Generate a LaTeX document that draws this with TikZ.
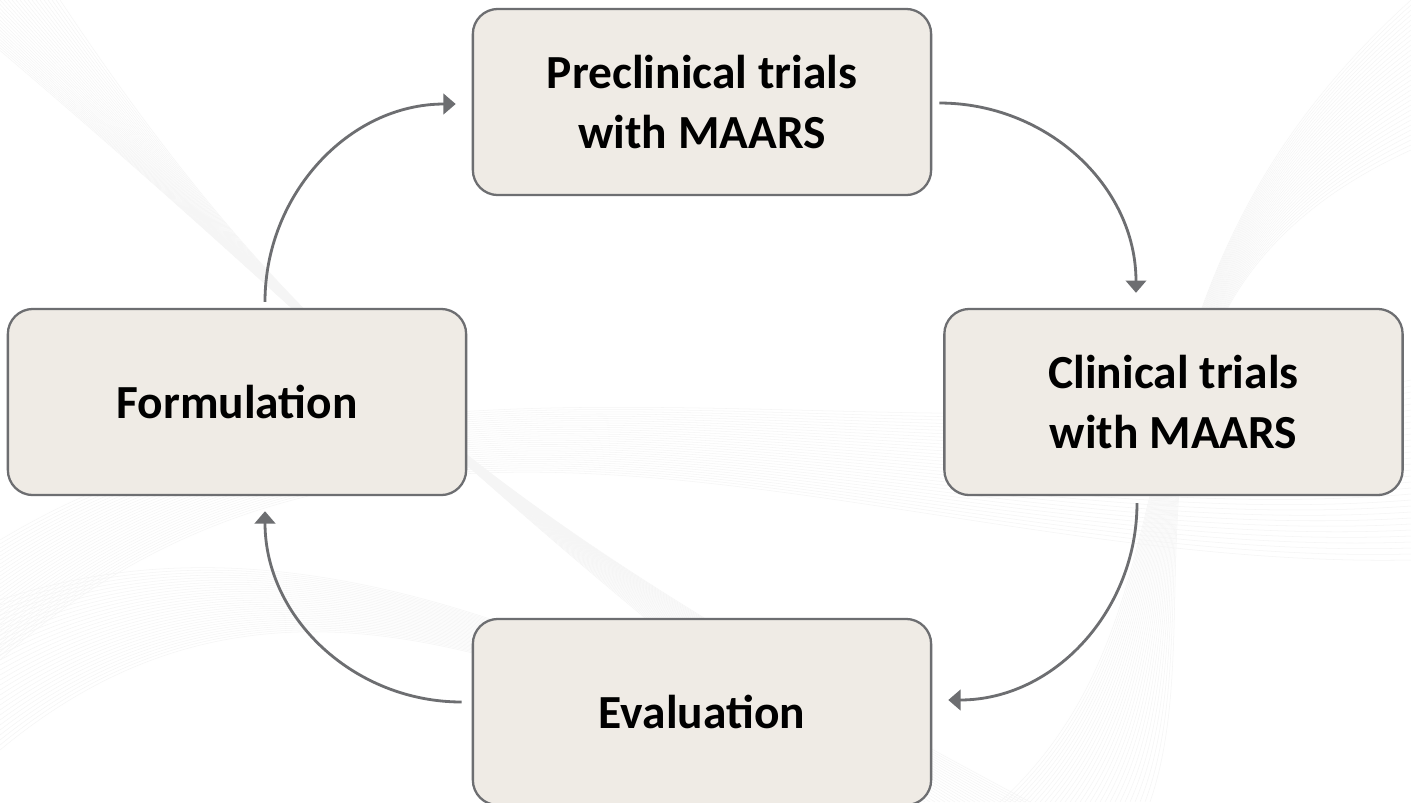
\documentclass[tikz,border=0pt]{standalone}
\usepackage{fontspec}
\setmainfont{Carlito}
\usetikzlibrary{arrows.meta,calc}
\definecolor{boxfill}{HTML}{EFEBE5}
\definecolor{edgegray}{HTML}{6D6E71}
\begin{document}
\begin{tikzpicture}[x=0.01cm,y=-0.01cm,
  stagebox/.style={draw=edgegray,line width=0.65pt,fill=boxfill,rounded corners=0.25cm,
    minimum width=4.58cm,minimum height=1.86cm,align=center,inner sep=0pt,
    font=\fontsize{13.5}{17}\selectfont\bfseries},
  arr/.style={draw=edgegray,line width=0.8pt,-{Triangle[width=5.8pt,length=3.5pt]}},
  bgline/.style={draw=black!4,line width=0.15pt}]
\useasboundingbox (0,0) rectangle (1411,802);
\fill[white] (0,0) rectangle (1411,802);
% faint background texture
\foreach \i in {0,...,30} {
  \draw[bgline] (\i*4-60,0) .. controls (300,300+\i*2) and (500,520) .. (880+\i*5,802);
  \draw[bgline] (0,540+\i*4) .. controls (400,300) and (900,480+\i*3) .. (1411,380+\i*6);
  \draw[bgline] (1411,\i*5) .. controls (1080,300) and (1220,600) .. (1000+\i*5,802);
  \draw[bgline] (0,600+\i*5) .. controls (300,500) and (600,650+\i*2) .. (900,802);
}
\node[stagebox] (pre) at (702,102) {Preclinical trials\\with MAARS};
\node[stagebox] (form) at (237,402) {Formulation};
\node[stagebox] (clin) at (1173.5,402) {Clinical trials\\with MAARS};
\node[stagebox] (eval) at (702,712) {Evaluation};
\coordinate (a1s) at ($(form.north)+(28,-6)$);
\coordinate (a1e) at ($(pre.west)+(-16,2)$);
\coordinate (a2s) at ($(pre.east)+(7,1)$);
\coordinate (a2e) at ($(clin.north)+(-37.5,-15)$);
\coordinate (a3s) at ($(clin.south)+(-36.5,7)$);
\coordinate (a3e) at ($(eval.east)+(16,-12)$);
\coordinate (a4s) at ($(eval.west)+(-10,-10)$);
\coordinate (a4e) at ($(form.south)+(28,15)$);
\draw[arr] (a1s) to[out=90,in=180] (a1e);
\draw[arr] (a2s) to[out=0,in=90] (a2e);
\draw[arr] (a3s) to[out=-90,in=0] (a3e);
\draw[arr] (a4s) to[out=180,in=-90] (a4e);
\end{tikzpicture}
\end{document}
